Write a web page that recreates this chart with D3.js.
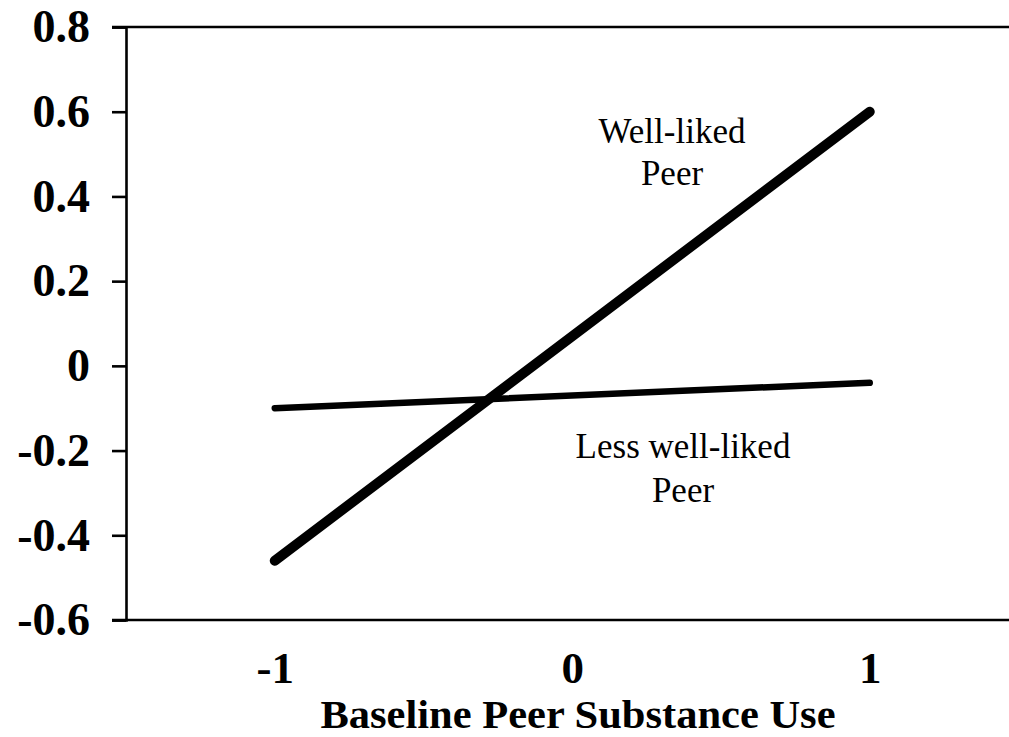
<!DOCTYPE html>
<html><head><meta charset="utf-8">
<script src="https://cdn.jsdelivr.net/npm/d3@7"></script>
<style>body{margin:0;background:#fff}svg{display:block}</style>
</head><body>
<svg id="c" width="1009" height="737"></svg>
<script>
const xDomain = [-1.5, 1.5];
const yDomain = [-0.6, 0.8];
const xTicks = [-1, 0, 1];
const yTicks = [-0.6, -0.4, -0.2, 0, 0.2, 0.4, 0.6, 0.8];
const xValues = [-1, 1];
const wellLiked = [-0.46, 0.60];
const lessWellLiked = [-0.10, -0.04];
const xTitle = "Baseline Peer Substance Use";

const svg = d3.select("#c");
const x = d3.scaleLinear().domain(xDomain).range([126, 1018.5]);
const y = d3.scaleLinear().domain(yDomain).range([620, 27]);
const font = "'Liberation Serif','Times New Roman',serif";
const hy = s => s.replace(/\u2212/g, "-");

// top border
svg.append("line").attr("x1", 112).attr("x2", 1009).attr("y1", y(0.8)).attr("y2", y(0.8))
  .attr("stroke", "#000").attr("stroke-width", 2.6);

// y axis
const ya = svg.append("g").attr("transform", "translate(126,0)")
  .call(d3.axisLeft(y).tickValues(yTicks).tickSize(14).tickPadding(22)
    .tickFormat(d => d === 0 ? "0" : hy(d3.format(".1f")(d))));
ya.select(".domain").attr("stroke-width", 2.6);
ya.selectAll(".tick line").attr("stroke-width", 2.6);
ya.selectAll("text").attr("font-family", font).attr("font-weight", "bold")
  .attr("font-size", 46).attr("fill", "#000");

// x axis
const xa = svg.append("g").attr("transform", "translate(0,620)")
  .call(d3.axisBottom(x).tickValues(xTicks).tickSize(0).tickPadding(0)
    .tickFormat(d => hy(d3.format("d")(d))));
xa.select(".domain").attr("stroke-width", 2.6).attr("d", `M112,0H1009`);
xa.selectAll("text").attr("font-family", font).attr("font-weight", "bold")
  .attr("font-size", 45).attr("fill", "#000").attr("dy", null).attr("y", 63);

svg.append("text").attr("x", 578).attr("y", 728).attr("text-anchor", "middle")
  .attr("font-family", font).attr("font-weight", "bold").attr("font-size", 39)
  .attr("textLength", 515).attr("lengthAdjust", "spacingAndGlyphs")
  .text(xTitle);

const line = d3.line().x(d => x(d[0])).y(d => y(d[1]));
svg.append("path").datum(xValues.map((v, i) => [v, lessWellLiked[i]]))
  .attr("d", line).attr("fill", "none").attr("stroke", "#000")
  .attr("stroke-width", 6.5).attr("stroke-linecap", "round");
svg.append("path").datum(xValues.map((v, i) => [v, wellLiked[i]]))
  .attr("d", line).attr("fill", "none").attr("stroke", "#000")
  .attr("stroke-width", 10).attr("stroke-linecap", "round");

const labels = [
  {t: "Well-liked", x: 672, y: 143},
  {t: "Peer", x: 672, y: 185},
  {t: "Less well-liked", x: 683, y: 458},
  {t: "Peer", x: 683, y: 502}
];
svg.selectAll("text.ann").data(labels).enter().append("text").attr("class", "ann")
  .attr("x", d => d.x).attr("y", d => d.y).attr("text-anchor", "middle")
  .attr("font-family", font).attr("font-size", 35).text(d => d.t);
</script>
</body></html>
